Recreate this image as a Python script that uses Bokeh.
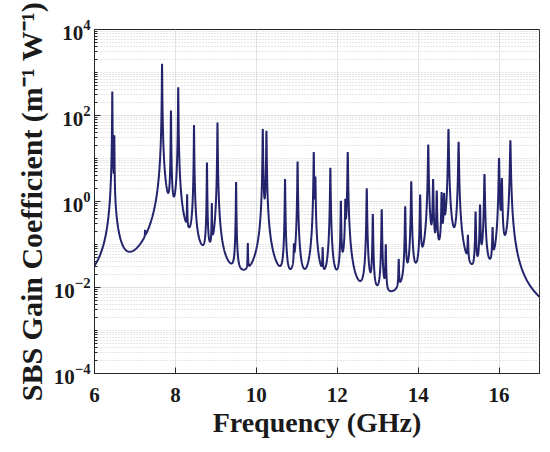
import numpy as np
from bokeh.plotting import figure
from bokeh.models import FixedTicker
from bokeh.embed import file_html
from bokeh.resources import INLINE

# ---- data ----
# resonance peaks of the SBS gain spectrum: centre frequency (GHz) and peak gain (1/(m W))
peak_freq_ghz = [6.44, 6.49, 7.25, 7.67, 7.89, 8.07, 8.29, 8.46, 8.78, 8.90,
                 9.04, 9.50, 9.79, 10.16, 10.25, 10.71, 10.93, 11.02, 11.42, 11.46,
                 11.64, 11.83, 12.09, 12.20, 12.26, 12.73, 12.88, 13.10, 13.20, 13.52,
                 13.68, 13.83, 14.05, 14.25, 14.37, 14.46, 14.58, 14.64, 14.75, 15.00,
                 15.23, 15.42, 15.53, 15.64, 15.84, 16.00, 16.07, 16.28]
peak_gain = [360, 33, 0.06, 1600, 130, 450, 1.2, 60, 8.0, 0.8,
             68, 2.8, 0.08, 48, 44, 3.3, 0.06, 8.4, 14, 3.5,
             0.06, 6.0, 1.0, 1.0, 14, 2.0, 0.5, 0.65, 0.09, 0.035,
             0.75, 2.9, 1.4, 21, 3.2, 1.7, 1.5, 1.3, 48, 24,
             0.12, 0.55, 0.8, 4.3, 0.2, 10, 3.3, 26]
linewidth_per_ghz = 0.0005   # Lorentzian half-width relative to centre frequency

x_ticks = [6, 8, 10, 12, 14, 16]
y_ticks = [1e-4, 1e-2, 1e0, 1e2, 1e4]
x_limits = (6, 17)
y_limits = (1e-4, 1e4)

# ---- spectrum as sum of Lorentzian lines ----
f0 = np.array(peak_freq_ghz)
g0 = np.array(peak_gain)
hw = linewidth_per_ghz * f0
freq = np.unique(np.concatenate([np.linspace(x_limits[0], x_limits[1], 22001), f0]))
gain = (g0[None, :] / (1.0 + ((freq[:, None] - f0[None, :]) / hw[None, :]) ** 2)).sum(axis=1)

y_minor = [m * 10.0 ** k for k in range(-4, 4) for m in range(1, 10) if not (m == 1 and k % 2 == 0)]

FONT = "Liberation Serif"
AX = "#262626"

p = figure(width=548, height=450, x_range=x_limits, y_range=y_limits,
           y_axis_type="log", output_backend="svg", toolbar_location=None,
           min_border_left=94, min_border_right=9, min_border_top=29, min_border_bottom=77,
           background_fill_color="white", border_fill_color="white")
p.outline_line_color = AX
p.outline_line_width = 1

p.line(freq, gain, line_color="#23246b", line_width=2)

p.xaxis.ticker = FixedTicker(ticks=x_ticks, minor_ticks=[])
p.yaxis.ticker = FixedTicker(ticks=y_ticks, minor_ticks=y_minor)

for ax in (p.xaxis[0], p.yaxis[0]):
    ax.axis_line_color = AX
    ax.major_tick_line_color = AX
    ax.minor_tick_line_color = AX
    ax.major_tick_in = 6
    ax.major_tick_out = 0
    ax.minor_tick_in = 3
    ax.minor_tick_out = 0
    ax.major_label_text_font = FONT
    ax.major_label_text_font_style = "bold"
    ax.major_label_text_font_size = "21px"
    ax.major_label_text_color = "#1a1a1a"
    ax.axis_label_text_font = FONT
    ax.axis_label_text_font_style = "bold"
    ax.axis_label_text_color = "#1a1a1a"

p.xaxis.axis_label_text_font_size = "28px"
p.yaxis.axis_label_text_font_size = "30px"
p.xaxis.major_label_standoff = 14
p.xaxis.axis_label_standoff = 2
p.yaxis.major_label_standoff = 4
p.yaxis.axis_label_standoff = 3
p.xaxis.axis_label = "Frequency (GHz)"
p.yaxis.axis_label = "SBS Gain Coefficient (m\u207b\u00b9 W\u207b\u00b9)"

p.xgrid.grid_line_color = "#e3e3e3"
p.ygrid.grid_line_color = "#e3e3e3"
p.ygrid.minor_grid_line_color = "#cccccc"
p.ygrid.minor_grid_line_dash = "1 2"
p.ygrid.minor_grid_line_width = 1

open("out.html", "w").write(file_html(p, INLINE))
